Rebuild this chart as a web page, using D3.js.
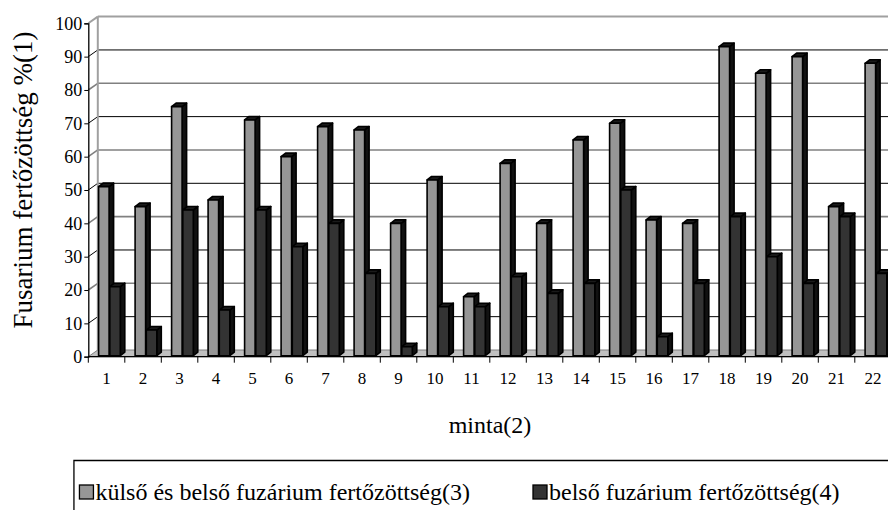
<!DOCTYPE html>
<html>
<head>
<meta charset="utf-8">
<script src="https://cdn.jsdelivr.net/npm/d3@7"></script>
<style>
  body { margin: 0; background: #fff; }
</style>
</head>
<body>
<div class="chart"></div>
<script>
// chart data
var samples = ["1","2","3","4","5","6","7","8","9","10","11","12","13","14","15","16","17","18","19","20","21","22"];
var outerInfection = [51,45,75,47,71,60,69,68,40,53,18,58,40,65,70,41,40,93,85,90,45,88];
var innerInfection = [21,8,44,14,44,33,40,25,3,15,15,24,19,22,50,6,22,42,30,22,42,25];
var yTicks = [0,10,20,30,40,50,60,70,80,90,100];
var seriesNames = ["külső és belső fuzárium fertőzöttség(3)", "belső fuzárium fertőzöttség(4)"];
var xTitle = "minta(2)";
var yTitle = "Fusarium fertőzöttség %(1)";

var serif = "'Liberation Serif', 'DejaVu Serif', 'Times New Roman', serif";
var svgWidth = 888, svgHeight = 510;
var left = 88.3, bandW = 36.5;
var wallDx = 9.5, wallDy = -6.7;   // 3d depth of the walls
var barDx = 4.5, barDy = -3.5;     // 3d depth of a column

var svg = d3.select(".chart").append("svg")
  .attr("width", svgWidth).attr("height", svgHeight)
  .attr("font-family", serif);

var x = d3.scaleBand().domain(samples).range([left, left + bandW * samples.length]);
var y = d3.scaleLinear().domain([0, 100]).range([356.7, 23.3]);

// floor
svg.append("path")
  .attr("d", "M" + left + "," + y(0) + "L" + (left + wallDx) + "," + (y(0) + wallDy) +
    "L" + (svgWidth + 10) + "," + (y(0) + wallDy) + "L" + (svgWidth + 10) + "," + y(0) + "Z")
  .attr("fill", "#c0c0c0").attr("stroke", "#808080").attr("stroke-width", 1);

// back wall grid and side wall lines
yTicks.forEach(function(t) {
  if (t === 0) return;
  var col = t === 100 ? "#a0a0a0" : (t % 20 === 0 ? "#808080" : "#000");
  var sw = t === 100 ? 2 : (t % 20 === 0 ? 1.6 : 1);
  svg.append("line")
    .attr("x1", left + wallDx).attr("x2", svgWidth + 10)
    .attr("y1", y(t) + wallDy).attr("y2", y(t) + wallDy)
    .attr("stroke", col).attr("stroke-width", sw);
  svg.append("line")
    .attr("x1", left).attr("x2", left + wallDx)
    .attr("y1", y(t)).attr("y2", y(t) + wallDy)
    .attr("stroke", col).attr("stroke-width", sw);
});
// back wall left edge
svg.append("line")
  .attr("x1", left + wallDx).attr("x2", left + wallDx)
  .attr("y1", y(100) + wallDy).attr("y2", y(0) + wallDy)
  .attr("stroke", "#a0a0a0").attr("stroke-width", 2);

// columns
function column(x0, w, v) {
  var yt = y(v), yb = y(0) - 1;
  return {
    front: "M" + x0 + "," + yt + "H" + (x0 + w) + "V" + yb + "H" + x0 + "Z",
    side: "M" + (x0 + w) + "," + yt + "L" + (x0 + w + barDx) + "," + (yt + barDy) +
      "V" + (yb + barDy) + "L" + (x0 + w) + "," + yb + "Z",
    top: "M" + x0 + "," + yt + "L" + (x0 + barDx) + "," + (yt + barDy) +
      "H" + (x0 + w + barDx) + "L" + (x0 + w) + "," + yt + "Z"
  };
}

var bars = svg.append("g");
samples.forEach(function(s, i) {
  [[outerInfection[i], 10.3, "#969696"], [innerInfection[i], 21.5, "#333333"]].forEach(function(b) {
    var c = column(x(s) + b[1], 10.5, b[0]);
    var g = bars.append("g").attr("stroke", "#000").attr("stroke-width", 1.6).attr("stroke-linejoin", "round");
    g.append("path").attr("d", c.side).attr("fill", "#111");
    g.append("path").attr("d", c.top).attr("fill", "#1a1a1a");
    g.append("path").attr("d", c.front).attr("fill", b[2]);
  });
});

// y axis
var leftAxis = d3.axisLeft(y).tickValues(yTicks).tickSize(4).tickPadding(2);
var gy = svg.append("g").attr("transform", "translate(" + left + ",0)").call(leftAxis)
  .attr("font-size", 18);
gy.select(".domain").attr("stroke", "#000").attr("stroke-width", 1.3);
gy.selectAll("line").attr("stroke", "#000");

// x axis
var bottomAxis = d3.axisBottom(x).tickSize(0).tickPadding(15);
var gx = svg.append("g").attr("transform", "translate(0," + y(0) + ")").call(bottomAxis)
  .attr("font-size", 17);
gx.select(".domain").attr("d", "M" + left + ",0H" + (svgWidth + 10)).attr("stroke", "#000").attr("stroke-width", 1.3);
samples.forEach(function(s) {
  gx.append("line").attr("x1", x(s)).attr("x2", x(s)).attr("y1", 0).attr("y2", 6)
    .attr("stroke", "#000");
});

// titles
svg.append("text")
  .attr("transform", "translate(32,180) rotate(-90)")
  .attr("text-anchor", "middle")
  .attr("font-size", 27)
  .text(yTitle);
svg.append("text")
  .attr("x", 490).attr("y", 433)
  .attr("text-anchor", "middle")
  .attr("font-size", 24)
  .text(xTitle);

// all text in the serif face (the axes set sans-serif on their groups)
svg.selectAll("text").style("font-family", serif).attr("fill", "#000");

// legend: first entry ends at 470, second square starts at 533
var legend = svg.append("g").attr("font-size", 24);
var t1 = legend.append("text").attr("x", 470).attr("y", 500)
  .attr("text-anchor", "end").style("font-family", serif).text(seriesNames[0]);
var t1Start = 470 - t1.node().getComputedTextLength();
legend.append("text").attr("x", 549).attr("y", 500).style("font-family", serif).text(seriesNames[1]);
[[t1Start - 16, "#969696"], [533, "#333333"]].forEach(function(l) {
  legend.append("rect").attr("x", l[0]).attr("y", 485).attr("width", 14).attr("height", 14)
    .attr("fill", l[1]).attr("stroke", "#000").attr("stroke-width", 1.3);
});
legend.append("path")
  .attr("d", "M" + (svgWidth + 5) + ",460.5H" + (t1Start - 21.5) + "V" + (svgHeight + 5))
  .attr("fill", "none").attr("stroke", "#000").attr("stroke-width", 1.3);
</script>
</body>
</html>
